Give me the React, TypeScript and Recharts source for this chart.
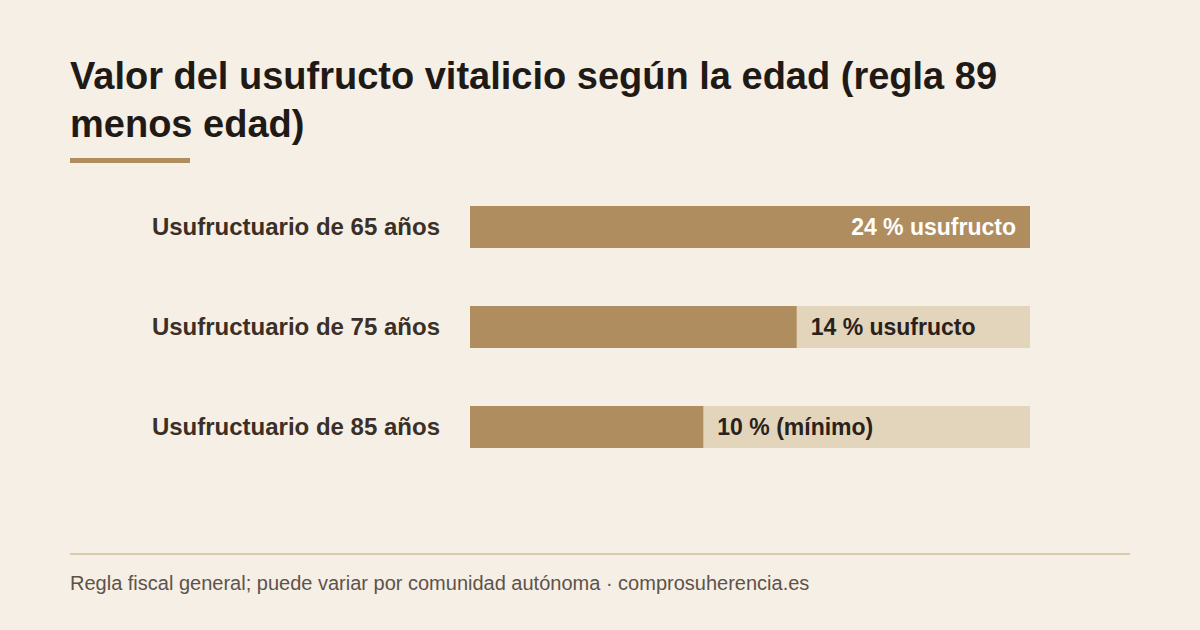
import React from "react";
import { BarChart, Bar, XAxis, YAxis, LabelList } from "recharts";

const categories = ["Usufructuario de 65 años", "Usufructuario de 75 años", "Usufructuario de 85 años"];
const values = [24, 14, 10];
const valueLabels = ["24 % usufructo", "14 % usufructo", "10 % (mínimo)"];
const maxValue = 24;

const data = categories.map((c, i) => ({ name: c, value: values[i], label: valueLabels[i] }));

const FONT = '"Liberation Sans", Arial, Helvetica, sans-serif';
const BG = "#F5EFE6";
const FILL = "#B08D5E";
const TRACK = "#E3D4BC";

const BarLabel = (props: any) => {
  const { x, y, width, height, index } = props;
  const v = values[index];
  const text = valueLabels[index];
  const cy = y + height / 2;
  if (v >= maxValue) {
    return (
      <text x={x + width - 14} y={cy} dy={8} textAnchor="end" fill="#FFFFFF" fontSize={23} fontWeight={700} fontFamily={FONT}>
        {text}
      </text>
    );
  }
  return (
    <text x={x + width + 14} y={cy} dy={8} textAnchor="start" fill="#2A211B" fontSize={23} fontWeight={700} fontFamily={FONT}>
      {text}
    </text>
  );
};

const CatTick = (props: any) => {
  const { x, y, payload } = props;
  return (
    <text x={x} y={y} dy={8} textAnchor="end" fill="#3B2F27" fontSize={24} fontWeight={700} fontFamily={FONT}>
      {payload.value}
    </text>
  );
};

export default function App() {
  return (
    <div style={{ position: "absolute", left: 0, top: 0, width: 1200, height: 630, background: BG, fontFamily: FONT, overflow: "hidden" }}>
      <div style={{ position: "absolute", left: 70, top: 52, width: 1000, fontSize: 38, fontWeight: 700, lineHeight: "48px", color: "#1F1A16" }}>
        Valor del usufructo vitalicio según la edad (regla 89 menos edad)
      </div>
      <div style={{ position: "absolute", left: 70, top: 158, width: 120, height: 5, background: FILL }} />
      <div style={{ position: "absolute", left: 0, top: 0 }}>
        <BarChart
          width={1200}
          height={630}
          data={data}
          layout="vertical"
          margin={{ top: 177, right: 170, bottom: 153, left: 0 }}
          barCategoryGap={29}
        >
          <XAxis type="number" domain={[0, maxValue]} hide />
          <YAxis
            type="category"
            dataKey="name"
            width={470}
            axisLine={false}
            tickLine={false}
            tickSize={0}
            tickMargin={30}
            tick={<CatTick />}
          />
          <Bar dataKey="value" fill={FILL} barSize={42} background={{ fill: TRACK }} isAnimationActive={false}>
            <LabelList dataKey="label" content={<BarLabel />} />
          </Bar>
        </BarChart>
      </div>
      <div style={{ position: "absolute", left: 70, top: 553, width: 1060, height: 2, background: "#DCC8AC" }} />
      <div style={{ position: "absolute", left: 70, top: 571, fontSize: 20, color: "#5E534A", lineHeight: "24px" }}>
        Regla fiscal general; puede variar por comunidad autónoma · comprosuherencia.es
      </div>
    </div>
  );
}
